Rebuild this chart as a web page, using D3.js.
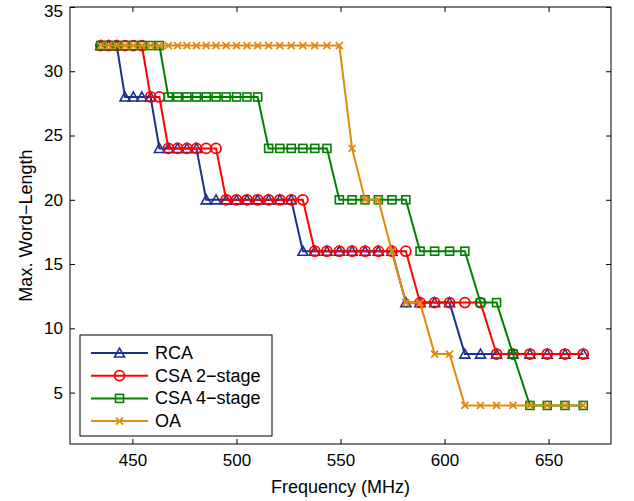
<!DOCTYPE html>
<html>
<head>
<meta charset="utf-8">
<script src="https://cdn.jsdelivr.net/npm/d3@7"></script>
<style>
  html, body { margin: 0; padding: 0; background: #fff; }
  svg { display: block; }
  text { font-family: "Liberation Sans", Arial, Helvetica, sans-serif; }
</style>
</head>
<body>
<svg id="chart" width="634" height="501"></svg>
<script>
// ---- data ----
const freq = [434.78, 438.60, 442.48, 446.43, 450.45, 454.55, 458.72, 462.96, 467.29, 471.70,
              476.19, 480.77, 485.44, 490.20, 495.05, 500.00, 505.05, 510.20, 515.46, 520.83,
              526.32, 531.91, 537.63, 543.48, 549.45, 555.56, 561.80, 568.18, 574.71, 581.40,
              588.24, 595.24, 602.41, 609.76, 617.28, 625.00, 632.91, 641.03, 649.35, 657.89, 666.67];
const rca  = [32,32,32,28,28,28,28,24,24,24,24,24,20,20,20,20,20,20,20,20,20,16,16,16,16,16,16,16,16,12,12,12,12,8,8,8,8,8,8,8,8];
const csa2 = [32,32,32,32,32,32,28,28,24,24,24,24,24,24,20,20,20,20,20,20,20,20,16,16,16,16,16,16,16,16,12,12,12,12,12,8,8,8,8,8,8];
const csa4 = [32,32,32,32,32,32,32,32,28,28,28,28,28,28,28,28,28,28,24,24,24,24,24,24,20,20,20,20,20,20,16,16,16,16,12,12,8,4,4,4,4];
const oa   = [32,32,32,32,32,32,32,32,32,32,32,32,32,32,32,32,32,32,32,32,32,32,32,32,32,24,20,20,16,12,12,8,8,4,4,4,4,4,4,4,4];
const seriesNames = ["RCA", "CSA 2\u2212stage", "CSA 4\u2212stage", "OA"];
const xTicks = [450, 500, 550, 600, 650];
const yTicks = [5, 10, 15, 20, 25, 30, 35];
const xLabel = "Frequency (MHz)";
const yLabel = "Max. Word\u2212Length";

// ---- layout ----
const L = 70, R = 611, T = 7, B = 444;
const colors = ["#1a3190", "#ff0000", "#008000", "#e2890e"];
const markers = ["triangle", "circle", "square", "x"];
const seriesVals = [rca, csa2, csa4, oa];

const svg = d3.select("#chart");
const x = d3.scaleLinear().domain([420, 680]).range([L, R]);
const y = d3.scaleLinear().domain([1, 35]).range([B, T]);

// axes (inward ticks, MATLAB style)
const fs = 17;
const gx = svg.append("g").attr("transform", `translate(0,${B})`)
  .call(d3.axisBottom(x).tickValues(xTicks).tickSizeInner(-5).tickSizeOuter(0).tickPadding(10));
const gxTop = svg.append("g").attr("transform", `translate(0,${T})`)
  .call(d3.axisTop(x).tickValues(xTicks).tickSizeInner(-5).tickSizeOuter(0).tickFormat(""));
const gy = svg.append("g").attr("transform", `translate(${L},0)`)
  .call(d3.axisLeft(y).tickValues(yTicks).tickSizeInner(-5).tickSizeOuter(0).tickPadding(7));
const gyR = svg.append("g").attr("transform", `translate(${R},0)`)
  .call(d3.axisRight(y).tickValues(yTicks).tickSizeInner(-5).tickSizeOuter(0).tickFormat(""));
[gx, gxTop, gy, gyR].forEach(g => {
  g.select(".domain").remove();
  g.selectAll(".tick line").attr("stroke", "#000").attr("stroke-width", 1);
  g.selectAll(".tick text").attr("font-size", fs).attr("fill", "#000")
    .style("font-family", '"Liberation Sans", Arial, sans-serif');
});
// keep the top label inside the picture
gy.selectAll(".tick text").filter(d => d === 35).attr("dy", "0.55em");

// box
svg.append("rect").attr("x", L).attr("y", T).attr("width", R - L).attr("height", B - T)
  .attr("fill", "none").attr("stroke", "#000").attr("stroke-width", 1);

// labels
svg.append("text").attr("x", (L + R) / 2).attr("y", 493).attr("text-anchor", "middle")
  .attr("font-size", fs + 1).text(xLabel);
svg.append("text").attr("transform", `translate(32,${(T + B) / 2}) rotate(-90)`)
  .attr("text-anchor", "middle").attr("font-size", fs + 1).text(yLabel);

// marker drawing
function drawMarker(g, type, cx, cy, color) {
  if (type === "triangle") {
    const w = 5, h = 9;
    g.append("path").attr("d", `M${cx},${cy - h * 0.55}L${cx + w},${cy + h * 0.45}L${cx - w},${cy + h * 0.45}Z`)
      .attr("fill", "none").attr("stroke", color).attr("stroke-width", 1.6);
  } else if (type === "circle") {
    g.append("circle").attr("cx", cx).attr("cy", cy).attr("r", 5)
      .attr("fill", "none").attr("stroke", color).attr("stroke-width", 1.8);
  } else if (type === "square") {
    g.append("rect").attr("x", cx - 4).attr("y", cy - 4).attr("width", 8).attr("height", 8)
      .attr("fill", "none").attr("stroke", color).attr("stroke-width", 1.6);
  } else {
    const s = 3.5;
    g.append("path").attr("d", `M${cx - s},${cy - s}L${cx + s},${cy + s}M${cx - s},${cy + s}L${cx + s},${cy - s}`)
      .attr("fill", "none").attr("stroke", color).attr("stroke-width", 1.8);
  }
}

const line = d3.line().x(d => x(d[0])).y(d => y(d[1]));
seriesVals.forEach((vals, i) => {
  const pts = freq.map((f, k) => [f, vals[k]]);
  const g = svg.append("g");
  g.append("path").datum(pts).attr("d", line).attr("fill", "none")
    .attr("stroke", colors[i]).attr("stroke-width", 2);
  pts.forEach(p => drawMarker(g, markers[i], x(p[0]), y(p[1]), colors[i]));
});

// legend
const lg = svg.append("g");
lg.append("rect").attr("x", 80).attr("y", 335).attr("width", 192).attr("height", 101)
  .attr("fill", "#fff").attr("stroke", "#000").attr("stroke-width", 1);
seriesNames.forEach((name, i) => {
  const ly = 353 + i * 22.7;
  lg.append("line").attr("x1", 91).attr("x2", 148).attr("y1", ly).attr("y2", ly)
    .attr("stroke", colors[i]).attr("stroke-width", 2);
  drawMarker(lg, markers[i], 119.5, ly, colors[i]);
  lg.append("text").attr("x", 155).attr("y", ly + 6).attr("font-size", fs + 1).text(name);
});
</script>
</body>
</html>
